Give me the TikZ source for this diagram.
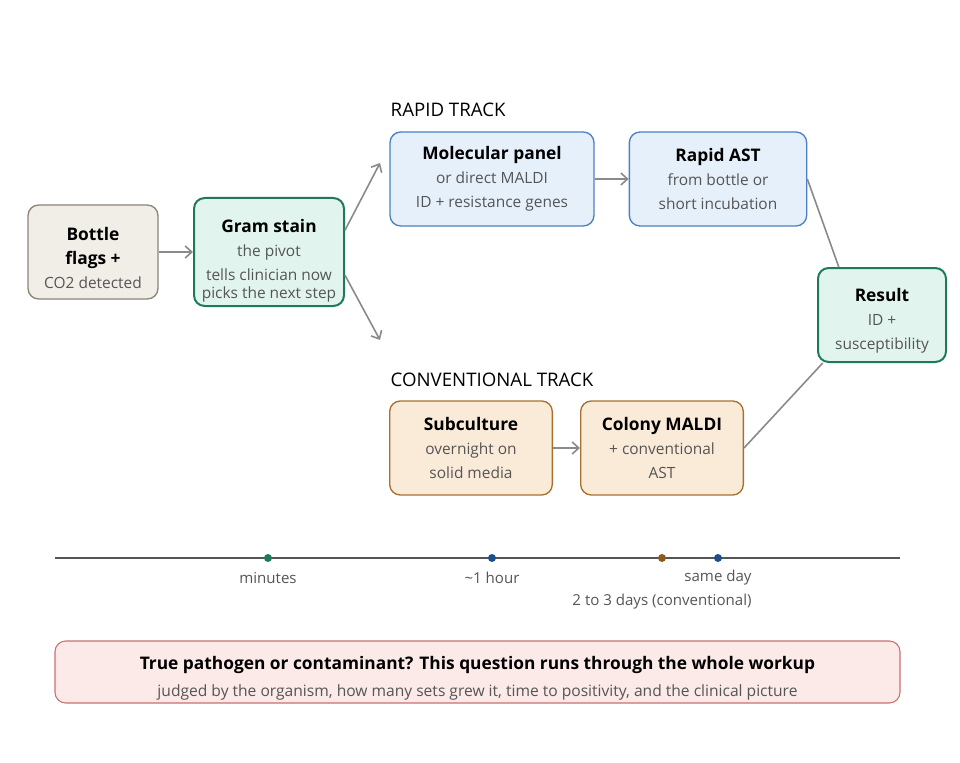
\documentclass[tikz,border=0pt]{standalone}
\usepackage{fontspec}
\setmainfont{Open Sans}
\usetikzlibrary{positioning,arrows.meta}

\definecolor{beigefill}{HTML}{F1EEE8}
\definecolor{beigeline}{HTML}{8C8478}
\definecolor{greenfill}{HTML}{E2F4EE}
\definecolor{greenline}{HTML}{1E7A5A}
\definecolor{bluefill}{HTML}{E6F0FA}
\definecolor{blueline}{HTML}{4A80C4}
\definecolor{orangefill}{HTML}{FAEBD8}
\definecolor{orangeline}{HTML}{A8702E}
\definecolor{redfill}{HTML}{FBEAE7}
\definecolor{redline}{HTML}{C87070}
\definecolor{arrowgray}{HTML}{8A8A8A}
\definecolor{subgray}{HTML}{555555}
\definecolor{dotblue}{HTML}{1F4E8C}
\definecolor{dotbrown}{HTML}{8B5A1E}

\newcommand{\ttl}[1]{{\fontsize{13}{18}\selectfont\bfseries #1}}
\newcommand{\sbt}[1]{{\color{subgray}#1}}

\tikzset{
  stagebox/.style={draw, rounded corners=8pt, line width=1pt, align=center,
    inner sep=0pt, font=\fontsize{11.6}{18}\selectfont, minimum height=70.5pt},
  flow/.style={-{Straight Barb[length=5pt,width=9pt]}, draw=arrowgray, line width=1.2pt},
  merge/.style={draw=arrowgray, line width=1.2pt},
  tick/.style={font=\fontsize{11.3}{14}\selectfont, text=subgray},
  track/.style={anchor=west, font=\fontsize{14}{16}\selectfont},
}

\begin{document}
\begin{tikzpicture}[x=0.75pt,y=-0.75pt]
      \useasboundingbox (0,0) rectangle (960,763);

      \node[stagebox, fill=beigefill, draw=beigeline, minimum width=97.5pt] (bottle) at (93,252)
        {\rule{0pt}{19pt}\ttl{Bottle}\\ \ttl{flags +}\\ \sbt{CO2 detected}};
      \node[stagebox, fill=greenfill, draw=greenline, line width=1.5pt, minimum width=112.5pt, minimum height=81pt] (gram) at (269,252)
        {\rule{0pt}{23pt}\ttl{Gram stain}\\ \sbt{the pivot}\\ \sbt{tells clinician now}\\[-4pt] \sbt{picks the next step}};

      \node[track] (rapid) at (386,110) {RAPID TRACK};
      \node[stagebox, fill=bluefill, draw=blueline, minimum width=153pt] (mol) at (492,179)
        {\ttl{Molecular panel}\\ \sbt{or direct MALDI}\\ \sbt{ID + resistance genes}};
      \node[stagebox, fill=bluefill, draw=blueline, minimum width=133pt] (rast) at (718,179)
        {\ttl{Rapid AST}\\ \sbt{from bottle or}\\ \sbt{short incubation}};

      \node[track] (conv) at (386,380) {CONVENTIONAL TRACK};
      \node[stagebox, fill=orangefill, draw=orangeline, minimum width=122pt] (sub) at (471,448)
        {\ttl{Subculture}\\ \sbt{overnight on}\\ \sbt{solid media}};
      \node[stagebox, fill=orangefill, draw=orangeline, minimum width=122pt] (colony) at (662,448)
        {\ttl{Colony MALDI}\\ \sbt{+ conventional}\\ \sbt{AST}};

      \node[stagebox, fill=greenfill, draw=greenline, line width=1.5pt, minimum width=96pt] (result) at (882,315)
        {\rule{0pt}{19pt}\ttl{Result}\\ \sbt{ID +}\\ \sbt{susceptibility}};

      % flow
      \coordinate (up) at (380,163);
      \coordinate (down) at (380,340);
      \draw[flow] (bottle) -- (gram);
      \draw[flow] (gram.16) -- (up);
      \draw[flow] (gram.-17) -- (down);
      \draw[flow] (mol) -- (rast);
      \draw[flow] (sub) -- (colony);
      \draw[merge] (rast.east) -- (result.132);
      \draw[merge] (colony.east) -- (result.-141);

      % timeline
      \coordinate (t0) at (55,558);
      \coordinate (t1) at (900,558);
      \draw[subgray, line width=1pt] (t0) -- (t1);
      \fill[greenline] (268,558) circle (4);
      \fill[dotblue] (492,558) circle (4);
      \fill[dotbrown] (662,558) circle (4);
      \fill[dotblue] (718,558) circle (4);
      \node[tick] (tmin) at (268,578) {minutes};
      \node[tick] (thour) at (492,578) {\textasciitilde1 hour};
      \node[tick] (tday) at (718,578) {same day};
      \node[tick] (tconv) at (662,602) {2 to 3 days (conventional)};

      % bottom note
      \node[draw=redline, fill=redfill, rounded corners=8pt, line width=0.8pt, minimum width=633.75pt, minimum height=46.5pt,
        align=center, inner sep=0pt] (note) at (477.5,672)
        {\rule{0pt}{19pt}{\fontsize{13}{18}\selectfont\bfseries True pathogen or contaminant? This question runs through the whole workup}\\[7pt]
         {\fontsize{11.7}{14}\selectfont\color{subgray}judged by the organism, how many sets grew it, time to positivity, and the clinical picture}};
    \end{tikzpicture}
\end{document}
